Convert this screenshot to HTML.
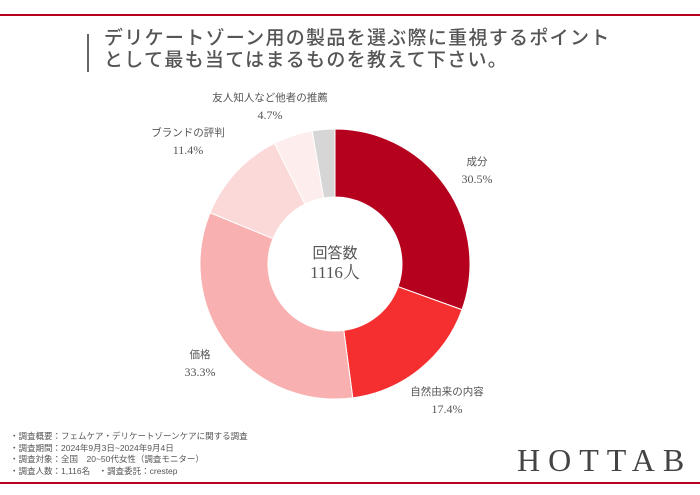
<!DOCTYPE html>
<html><head><meta charset="utf-8"><style>
body{margin:0;width:700px;height:495px;background:#fff;overflow:hidden;position:relative;font-family:"Liberation Serif","Noto Serif CJK SC","Noto Sans CJK JP",serif;}
.abs{position:absolute;}
.title{left:104px;top:28px;font-family:"Liberation Sans","Noto Sans CJK JP",sans-serif;font-size:19px;line-height:22px;color:#555;font-weight:500;letter-spacing:1.3px;}
.notes{left:10px;top:431px;font-family:"Liberation Sans","Noto Sans CJK JP",sans-serif;font-size:8.5px;line-height:11.5px;color:#555;}
.logo{left:517px;top:442px;font-size:32px;letter-spacing:8px;color:#444;font-family:"Liberation Serif",serif;}
</style></head><body>
<div class="abs" style="left:0;top:14px;width:700px;height:2px;background:#b5001e"></div>
<div class="abs" style="left:87px;top:34px;width:1.5px;height:38px;background:#666"></div>
<div class="abs title">デリケートゾーン用の製品を選ぶ際に重視するポイント<br>として最も当てはまるものを教えて下さい。</div>
<svg class="abs" style="left:0;top:0" width="700" height="495">
<g id="slices"></g>
<g id="labels" font-family='"Liberation Serif","Noto Sans CJK JP",serif' fill="#555" text-anchor="middle"></g>
<text x="335" y="258" text-anchor="middle" font-size="15" fill="#555" font-family='"Noto Sans CJK JP",sans-serif'>回答数</text>
<text x="335" y="278" text-anchor="middle" font-size="17" fill="#555" font-family='"Liberation Serif","Noto Serif CJK SC",serif'>1116人</text>
</svg>
<div class="abs notes">・調査概要：フェムケア・デリケートゾーンケアに関する調査<br>・調査期間：2024年9月3日~2024年9月4日<br>・調査対象：全国　20~50代女性（調査モニター）<br>・調査人数：1,116名　・調査委託：crestep</div>
<div class="abs logo">HOTTAB</div>
<div class="abs" style="left:0;top:482px;width:700px;height:2px;background:#b5001e"></div>
<script>
const categories=["成分","自然由来の内容","価格","ブランドの評判","友人知人など他者の推薦","その他"];
const values=[30.5,17.4,33.3,11.4,4.7,2.7];
const valueLabels=["30.5%","17.4%","33.3%","11.4%","4.7%",""];
const colors=["#b5001e","#f52f2f","#f9b0b0","#fcd9d9","#fdeded","#d6d6d6"];
const labelPos=[[477,165],[447,395],[200,358],[188,136],[270,101],null];
const cx=335,cy=264,R=135,r=67;
const total=values.reduce((a,b)=>a+b,0);
const ns="http://www.w3.org/2000/svg";
const g=document.getElementById('slices'),lg=document.getElementById('labels');
function pt(a,rad){return [cx+rad*Math.sin(a),cy-rad*Math.cos(a)];}
let acc=0;
values.forEach((v,i)=>{
 const a0=acc/total*2*Math.PI;acc+=v;const a1=acc/total*2*Math.PI;
 const large=(a1-a0)>Math.PI?1:0;
 const p0=pt(a0,R),p1=pt(a1,R),q1=pt(a1,r),q0=pt(a0,r);
 const p=document.createElementNS(ns,'path');
 p.setAttribute('d',`M${p0[0]},${p0[1]}A${R},${R} 0 ${large} 1 ${p1[0]},${p1[1]}L${q1[0]},${q1[1]}A${r},${r} 0 ${large} 0 ${q0[0]},${q0[1]}Z`);
 p.setAttribute('fill',colors[i]);p.setAttribute('stroke','#fff');p.setAttribute('stroke-width','1');
 
 
 g.appendChild(p);
 if(labelPos[i]){
  const t=document.createElementNS(ns,'text');t.setAttribute('x',labelPos[i][0]);t.setAttribute('y',labelPos[i][1]);
  t.setAttribute('font-size','10.5');t.textContent=categories[i];
  
  
  lg.appendChild(t);
  const t2=document.createElementNS(ns,'text');t2.setAttribute('x',labelPos[i][0]);t2.setAttribute('y',labelPos[i][1]+18);
  t2.setAttribute('font-size','12');t2.textContent=valueLabels[i];
  
  
  lg.appendChild(t2);
 }
});
</script>
</body></html>
